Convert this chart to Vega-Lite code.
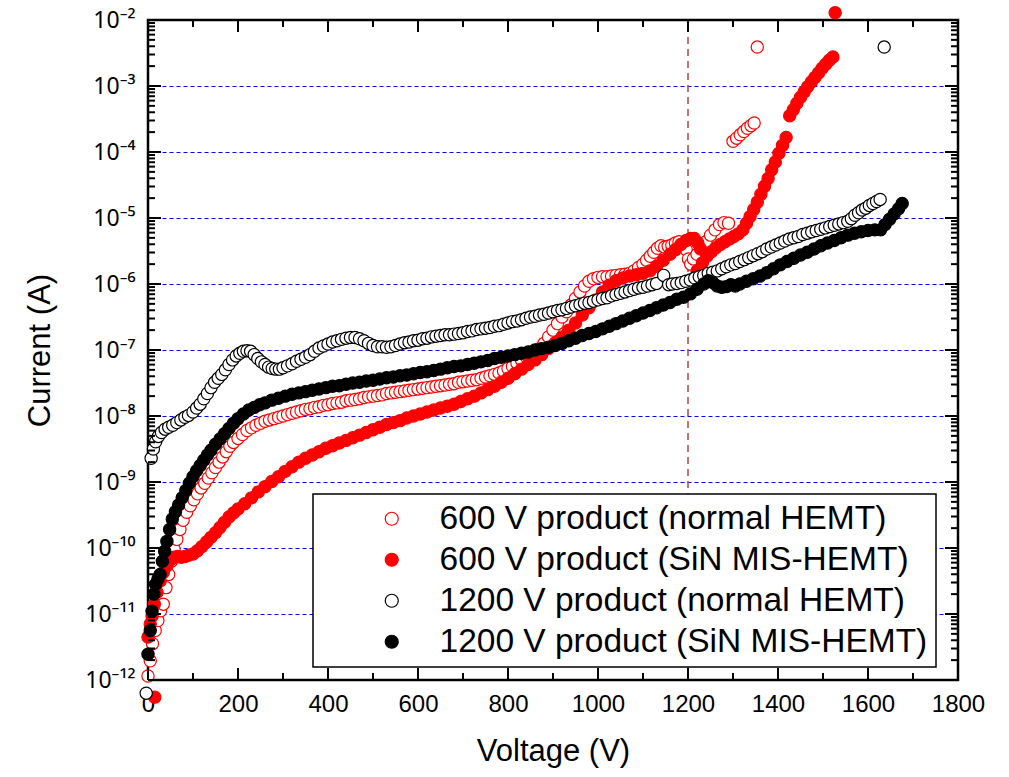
{
"$schema":"https://vega.github.io/schema/vega-lite/v6.json",
"width":810,"height":660,
"autosize":{"type":"none"},
"padding":{"left":148,"top":20,"right":51,"bottom":97},
"background":"white",
"config":{
 "view":{"stroke":"black","strokeWidth":2.5},
 "font":"Liberation Sans",
 "axis":{"labelFont":"Liberation Sans","titleFont":"Liberation Sans","labelColor":"black","titleColor":"black","domain":false,"titleFontWeight":"normal","labelFontSize":24,"titleFontSize":31,"labelOverlap":false,"labelFlush":false,"labelBound":false,"grid":false},
 "legend":{"orient":"none","legendX":165,"legendY":474,"padding":8,"rowPadding":6,"strokeColor":"black","strokeWidth":1.5,"fillColor":"white","labelFont":"Liberation Sans","labelFontSize":33.5,"labelColor":"black","labelLimit":1000,"symbolSize":170,"symbolStrokeWidth":1.2,"symbolType":"circle","symbolOffset":54,"labelOffset":31,"cornerRadius":0}
},
"datasets":{
 "xMajor":[{"V":0},{"V":200},{"V":400},{"V":600},{"V":800},{"V":1000},{"V":1200},{"V":1400},{"V":1600},{"V":1800}],
 "xMinor":[{"V":100},{"V":300},{"V":500},{"V":700},{"V":900},{"V":1100},{"V":1300},{"V":1500},{"V":1700}],
 "yMajor":[{"I":1e-12},{"I":1e-11},{"I":1e-10},{"I":1e-9},{"I":1e-8},{"I":1e-7},{"I":1e-6},{"I":1e-5},{"I":1e-4},{"I":1e-3},{"I":1e-2}],
 "yMinor":[{"I":2e-12},{"I":3e-12},{"I":4e-12},{"I":5e-12},{"I":6e-12},{"I":7e-12},{"I":8e-12},{"I":9e-12},{"I":2e-11},{"I":3e-11},{"I":4e-11},{"I":5e-11},{"I":6e-11},{"I":7e-11},{"I":8e-11},{"I":9e-11},{"I":2e-10},{"I":3e-10},{"I":4e-10},{"I":5e-10},{"I":6e-10},{"I":7e-10},{"I":8e-10},{"I":9e-10},{"I":2e-9},{"I":3e-9},{"I":4e-9},{"I":5e-9},{"I":6e-9},{"I":7e-9},{"I":8e-9},{"I":9e-9},{"I":2e-8},{"I":3e-8},{"I":4e-8},{"I":5e-8},{"I":6e-8},{"I":7e-8},{"I":8e-8},{"I":9e-8},{"I":2e-7},{"I":3e-7},{"I":4e-7},{"I":5e-7},{"I":6e-7},{"I":7e-7},{"I":8e-7},{"I":9e-7},{"I":2e-6},{"I":3e-6},{"I":4e-6},{"I":5e-6},{"I":6e-6},{"I":7e-6},{"I":8e-6},{"I":9e-6},{"I":2e-5},{"I":3e-5},{"I":4e-5},{"I":5e-5},{"I":6e-5},{"I":7e-5},{"I":8e-5},{"I":9e-5},{"I":2e-4},{"I":3e-4},{"I":4e-4},{"I":5e-4},{"I":6e-4},{"I":7e-4},{"I":8e-4},{"I":9e-4},{"I":2e-3},{"I":3e-3},{"I":4e-3},{"I":5e-3},{"I":6e-3},{"I":7e-3},{"I":8e-3},{"I":9e-3}]
},
"layer":[
 {
  "data":{"values":[{"v":1200}]},
  "mark":{"type":"rule","color":"#b5534f","strokeWidth":1.6,"strokeDash":[7,5]},
  "encoding":{
   "x":{"field":"v","type":"quantitative","scale":{"domain":[0,1800],"nice":false,"zero":false},
    "axis":{"orient":"bottom","values":[0,200,400,600,800,1000,1200,1400,1600,1800],"format":"d","ticks":false,"labelPadding":12,"title":"Voltage (V)","titleX":405,"titleY":71,"titleBaseline":"middle","titleAlign":"center"}},
   "y":{"datum":1e-12,"type":"quantitative","scale":{"type":"log","domain":[1e-12,1e-2],"nice":false},
    "axis":{"orient":"left","values":[1e-12,1e-11,1e-10,1e-9,1e-8,1e-7,1e-6,1e-5,1e-4,1e-3,1e-2],
     "labelExpr":"'10⁻' + ['⁰','¹','²','³','⁴','⁵','⁶','⁷','⁸','⁹','¹⁰','¹¹','¹²'][-round(log(datum.value)/LN10)]",
     "labelFont":"Noto Sans","labelFontSize":23,
     "ticks":false,"labelPadding":13,
     "grid":true,"gridColor":"#0000ff","gridDash":[4,3],"gridWidth":1,
     "gridOpacity":{"condition":{"test":"datum.value > 2e-12 && datum.value < 5e-3","value":1},"value":0},
     "title":"Current (A)","titleX":-108,"titleY":330,"titleAngle":-90,"titleBaseline":"middle","titleAlign":"center"}},
   "y2":{"datum":1e-2}
  }
 },
 {
  "data":{"values":[
{"s":"a","V":0,"I":1.15e-12},{"s":"a","V":5,"I":1.95e-12},{"s":"a","V":10,"I":3.55e-12},{"s":"a","V":16,"I":5.62e-12},{"s":"a","V":22,"I":7.94e-12},{"s":"a","V":28,"I":1.12e-11},{"s":"a","V":34,"I":1.41e-11},{"s":"a","V":40,"I":2.51e-11},{"s":"a","V":46,"I":3.98e-11},{"s":"a","V":52,"I":6.31e-11},{"s":"a","V":58,"I":9.55e-11},{"s":"a","V":64,"I":1.35e-10},{"s":"a","V":71,"I":1.91e-10},{"s":"a","V":78,"I":2.63e-10},{"s":"a","V":86,"I":3.47e-10},{"s":"a","V":94,"I":4.37e-10},{"s":"a","V":102,"I":5.37e-10},{"s":"a","V":110,"I":6.61e-10},{"s":"a","V":118,"I":8.13e-10},{"s":"a","V":126,"I":9.55e-10},{"s":"a","V":134,"I":1.15e-9},{"s":"a","V":142,"I":1.38e-9},{"s":"a","V":150,"I":1.66e-9},{"s":"a","V":158,"I":2.0e-9},{"s":"a","V":166,"I":2.4e-9},{"s":"a","V":174,"I":2.88e-9},{"s":"a","V":182,"I":3.47e-9},{"s":"a","V":190,"I":3.98e-9},{"s":"a","V":200,"I":4.57e-9},{"s":"a","V":210,"I":5.25e-9},{"s":"a","V":220,"I":6.03e-9},{"s":"a","V":230,"I":6.61e-9},{"s":"a","V":240,"I":7.24e-9},{"s":"a","V":250,"I":7.76e-9},{"s":"a","V":260,"I":8.32e-9},{"s":"a","V":270,"I":8.71e-9},{"s":"a","V":280,"I":9.12e-9},{"s":"a","V":290,"I":9.55e-9},{"s":"a","V":300,"I":1.0e-8},{"s":"a","V":310,"I":1.05e-8},{"s":"a","V":320,"I":1.1e-8},{"s":"a","V":330,"I":1.15e-8},{"s":"a","V":340,"I":1.2e-8},{"s":"a","V":350,"I":1.26e-8},{"s":"a","V":360,"I":1.29e-8},{"s":"a","V":370,"I":1.35e-8},{"s":"a","V":380,"I":1.38e-8},{"s":"a","V":390,"I":1.45e-8},{"s":"a","V":400,"I":1.48e-8},{"s":"a","V":410,"I":1.55e-8},{"s":"a","V":420,"I":1.58e-8},{"s":"a","V":430,"I":1.62e-8},{"s":"a","V":440,"I":1.7e-8},{"s":"a","V":450,"I":1.74e-8},{"s":"a","V":460,"I":1.78e-8},{"s":"a","V":470,"I":1.82e-8},{"s":"a","V":480,"I":1.91e-8},{"s":"a","V":490,"I":1.95e-8},{"s":"a","V":500,"I":2.0e-8},{"s":"a","V":510,"I":2.04e-8},{"s":"a","V":520,"I":2.09e-8},{"s":"a","V":530,"I":2.19e-8},{"s":"a","V":540,"I":2.24e-8},{"s":"a","V":550,"I":2.29e-8},{"s":"a","V":560,"I":2.34e-8},{"s":"a","V":570,"I":2.4e-8},{"s":"a","V":580,"I":2.45e-8},{"s":"a","V":590,"I":2.51e-8},{"s":"a","V":600,"I":2.57e-8},{"s":"a","V":610,"I":2.63e-8},{"s":"a","V":620,"I":2.69e-8},{"s":"a","V":630,"I":2.75e-8},{"s":"a","V":640,"I":2.82e-8},{"s":"a","V":650,"I":2.88e-8},{"s":"a","V":660,"I":2.95e-8},{"s":"a","V":670,"I":3.02e-8},{"s":"a","V":680,"I":3.09e-8},{"s":"a","V":690,"I":3.24e-8},{"s":"a","V":700,"I":3.31e-8},{"s":"a","V":710,"I":3.39e-8},{"s":"a","V":720,"I":3.47e-8},{"s":"a","V":730,"I":3.55e-8},{"s":"a","V":740,"I":3.72e-8},{"s":"a","V":750,"I":3.89e-8},{"s":"a","V":760,"I":4.07e-8},{"s":"a","V":770,"I":4.27e-8},{"s":"a","V":780,"I":4.47e-8},{"s":"a","V":790,"I":4.79e-8},{"s":"a","V":800,"I":5.25e-8},{"s":"a","V":810,"I":5.62e-8},{"s":"a","V":820,"I":6.31e-8},{"s":"a","V":830,"I":7.08e-8},{"s":"a","V":840,"I":7.94e-8},{"s":"a","V":850,"I":8.71e-8},{"s":"a","V":860,"I":9.55e-8},{"s":"a","V":870,"I":1.05e-7},{"s":"a","V":880,"I":1.26e-7},{"s":"a","V":890,"I":1.58e-7},{"s":"a","V":900,"I":2.0e-7},{"s":"a","V":910,"I":2.51e-7},{"s":"a","V":920,"I":3.16e-7},{"s":"a","V":930,"I":3.8e-7},{"s":"a","V":940,"I":4.79e-7},{"s":"a","V":950,"I":6.03e-7},{"s":"a","V":960,"I":7.59e-7},{"s":"a","V":970,"I":9.33e-7},{"s":"a","V":980,"I":1.1e-6},{"s":"a","V":990,"I":1.2e-6},{"s":"a","V":1000,"I":1.26e-6},{"s":"a","V":1010,"I":1.29e-6},{"s":"a","V":1020,"I":1.29e-6},{"s":"a","V":1030,"I":1.32e-6},{"s":"a","V":1040,"I":1.35e-6},{"s":"a","V":1050,"I":1.38e-6},{"s":"a","V":1060,"I":1.41e-6},{"s":"a","V":1070,"I":1.45e-6},{"s":"a","V":1080,"I":1.58e-6},{"s":"a","V":1090,"I":1.78e-6},{"s":"a","V":1100,"I":2.0e-6},{"s":"a","V":1108,"I":2.29e-6},{"s":"a","V":1116,"I":2.63e-6},{"s":"a","V":1124,"I":3.02e-6},{"s":"a","V":1132,"I":3.47e-6},{"s":"a","V":1140,"I":3.8e-6},{"s":"a","V":1148,"I":3.63e-6},{"s":"a","V":1156,"I":3.72e-6},{"s":"a","V":1164,"I":3.89e-6},{"s":"a","V":1172,"I":4.17e-6},{"s":"a","V":1180,"I":4.37e-6},{"s":"a","V":1188,"I":3.98e-6},{"s":"a","V":1196,"I":3.31e-6},{"s":"a","V":1201,"I":2.4e-6},{"s":"a","V":1206,"I":2.0e-6},{"s":"a","V":1212,"I":2.4e-6},{"s":"a","V":1220,"I":2.82e-6},{"s":"a","V":1230,"I":3.55e-6},{"s":"a","V":1240,"I":4.37e-6},{"s":"a","V":1250,"I":5.5e-6},{"s":"a","V":1260,"I":6.61e-6},{"s":"a","V":1270,"I":7.94e-6},{"s":"a","V":1280,"I":8.51e-6},{"s":"a","V":1290,"I":8.32e-6},{"s":"a","V":1300,"I":1.45e-4},{"s":"a","V":1308,"I":1.62e-4},{"s":"a","V":1316,"I":1.82e-4},{"s":"a","V":1324,"I":2.04e-4},{"s":"a","V":1332,"I":2.29e-4},{"s":"a","V":1340,"I":2.51e-4},{"s":"a","V":1347,"I":2.75e-4},{"s":"a","V":1354,"I":3.89e-3},
{"s":"b","V":0,"I":4.47e-12},{"s":"b","V":15,"I":5.5e-13},{"s":"b","V":5,"I":7.08e-12},{"s":"b","V":9,"I":9.33e-12},{"s":"b","V":14,"I":1.41e-11},{"s":"b","V":20,"I":2.14e-11},{"s":"b","V":27,"I":3.16e-11},{"s":"b","V":34,"I":4.27e-11},{"s":"b","V":42,"I":5.37e-11},{"s":"b","V":50,"I":6.61e-11},{"s":"b","V":58,"I":7.24e-11},{"s":"b","V":66,"I":7.41e-11},{"s":"b","V":74,"I":7.24e-11},{"s":"b","V":82,"I":7.41e-11},{"s":"b","V":90,"I":7.76e-11},{"s":"b","V":100,"I":8.13e-11},{"s":"b","V":110,"I":9.12e-11},{"s":"b","V":120,"I":1.05e-10},{"s":"b","V":130,"I":1.23e-10},{"s":"b","V":140,"I":1.45e-10},{"s":"b","V":150,"I":1.7e-10},{"s":"b","V":160,"I":2.04e-10},{"s":"b","V":170,"I":2.45e-10},{"s":"b","V":180,"I":2.95e-10},{"s":"b","V":190,"I":3.39e-10},{"s":"b","V":200,"I":3.89e-10},{"s":"b","V":215,"I":4.68e-10},{"s":"b","V":230,"I":5.75e-10},{"s":"b","V":245,"I":7.08e-10},{"s":"b","V":260,"I":8.51e-10},{"s":"b","V":275,"I":1.02e-9},{"s":"b","V":290,"I":1.2e-9},{"s":"b","V":305,"I":1.45e-9},{"s":"b","V":320,"I":1.7e-9},{"s":"b","V":335,"I":2.0e-9},{"s":"b","V":350,"I":2.29e-9},{"s":"b","V":365,"I":2.57e-9},{"s":"b","V":380,"I":2.88e-9},{"s":"b","V":395,"I":3.24e-9},{"s":"b","V":410,"I":3.55e-9},{"s":"b","V":425,"I":3.89e-9},{"s":"b","V":440,"I":4.27e-9},{"s":"b","V":455,"I":4.68e-9},{"s":"b","V":470,"I":5.13e-9},{"s":"b","V":485,"I":5.62e-9},{"s":"b","V":500,"I":6.17e-9},{"s":"b","V":515,"I":6.76e-9},{"s":"b","V":530,"I":7.41e-9},{"s":"b","V":545,"I":7.94e-9},{"s":"b","V":560,"I":8.51e-9},{"s":"b","V":575,"I":9.33e-9},{"s":"b","V":590,"I":1.0e-8},{"s":"b","V":605,"I":1.07e-8},{"s":"b","V":620,"I":1.15e-8},{"s":"b","V":635,"I":1.23e-8},{"s":"b","V":650,"I":1.32e-8},{"s":"b","V":665,"I":1.41e-8},{"s":"b","V":680,"I":1.51e-8},{"s":"b","V":695,"I":1.66e-8},{"s":"b","V":710,"I":1.82e-8},{"s":"b","V":725,"I":2.0e-8},{"s":"b","V":740,"I":2.24e-8},{"s":"b","V":755,"I":2.51e-8},{"s":"b","V":770,"I":2.82e-8},{"s":"b","V":785,"I":3.24e-8},{"s":"b","V":800,"I":3.72e-8},{"s":"b","V":815,"I":4.37e-8},{"s":"b","V":830,"I":5.13e-8},{"s":"b","V":845,"I":6.03e-8},{"s":"b","V":860,"I":7.08e-8},{"s":"b","V":875,"I":8.51e-8},{"s":"b","V":890,"I":1.05e-7},{"s":"b","V":905,"I":1.29e-7},{"s":"b","V":920,"I":1.58e-7},{"s":"b","V":935,"I":2.0e-7},{"s":"b","V":950,"I":2.57e-7},{"s":"b","V":965,"I":3.39e-7},{"s":"b","V":980,"I":4.37e-7},{"s":"b","V":995,"I":5.75e-7},{"s":"b","V":1010,"I":7.59e-7},{"s":"b","V":1025,"I":9.55e-7},{"s":"b","V":1040,"I":1.12e-6},{"s":"b","V":1055,"I":1.23e-6},{"s":"b","V":1070,"I":1.32e-6},{"s":"b","V":1085,"I":1.38e-6},{"s":"b","V":1100,"I":1.45e-6},{"s":"b","V":1115,"I":1.58e-6},{"s":"b","V":1130,"I":1.86e-6},{"s":"b","V":1145,"I":2.29e-6},{"s":"b","V":1160,"I":2.82e-6},{"s":"b","V":1172,"I":3.31e-6},{"s":"b","V":1184,"I":3.98e-6},{"s":"b","V":1196,"I":4.57e-6},{"s":"b","V":1206,"I":4.9e-6},{"s":"b","V":1214,"I":4.9e-6},{"s":"b","V":1222,"I":4.17e-6},{"s":"b","V":1228,"I":3.39e-6},{"s":"b","V":1220,"I":1.58e-6},{"s":"b","V":1232,"I":2.09e-6},{"s":"b","V":1242,"I":2.63e-6},{"s":"b","V":1252,"I":3.09e-6},{"s":"b","V":1262,"I":3.55e-6},{"s":"b","V":1272,"I":3.98e-6},{"s":"b","V":1282,"I":4.37e-6},{"s":"b","V":1292,"I":4.79e-6},{"s":"b","V":1302,"I":5.25e-6},{"s":"b","V":1312,"I":5.75e-6},{"s":"b","V":1322,"I":6.61e-6},{"s":"b","V":1330,"I":8.32e-6},{"s":"b","V":1338,"I":1.05e-5},{"s":"b","V":1346,"I":1.35e-5},{"s":"b","V":1354,"I":1.74e-5},{"s":"b","V":1362,"I":2.29e-5},{"s":"b","V":1370,"I":3.02e-5},{"s":"b","V":1378,"I":3.98e-5},{"s":"b","V":1386,"I":5.37e-5},{"s":"b","V":1394,"I":7.08e-5},{"s":"b","V":1402,"I":9.55e-5},{"s":"b","V":1410,"I":1.26e-4},{"s":"b","V":1418,"I":1.66e-4},{"s":"b","V":1426,"I":3.55e-4},{"s":"b","V":1434,"I":4.37e-4},{"s":"b","V":1442,"I":5.5e-4},{"s":"b","V":1450,"I":6.76e-4},{"s":"b","V":1458,"I":8.13e-4},{"s":"b","V":1466,"I":9.77e-4},{"s":"b","V":1474,"I":1.15e-3},{"s":"b","V":1482,"I":1.35e-3},{"s":"b","V":1490,"I":1.58e-3},{"s":"b","V":1498,"I":1.86e-3},{"s":"b","V":1506,"I":2.14e-3},{"s":"b","V":1514,"I":2.45e-3},{"s":"b","V":1522,"I":2.75e-3},{"s":"b","V":1527,"I":1.29e-2},
{"s":"c","V":-4,"I":6.31e-13},{"s":"c","V":7,"I":2.29e-9},{"s":"c","V":12,"I":3.16e-9},{"s":"c","V":17,"I":4.07e-9},{"s":"c","V":23,"I":4.9e-9},{"s":"c","V":30,"I":5.62e-9},{"s":"c","V":38,"I":6.31e-9},{"s":"c","V":46,"I":6.76e-9},{"s":"c","V":55,"I":7.24e-9},{"s":"c","V":64,"I":7.94e-9},{"s":"c","V":73,"I":8.71e-9},{"s":"c","V":82,"I":9.55e-9},{"s":"c","V":90,"I":1.02e-8},{"s":"c","V":100,"I":1.15e-8},{"s":"c","V":108,"I":1.32e-8},{"s":"c","V":116,"I":1.51e-8},{"s":"c","V":124,"I":1.82e-8},{"s":"c","V":132,"I":2.19e-8},{"s":"c","V":140,"I":2.69e-8},{"s":"c","V":148,"I":3.24e-8},{"s":"c","V":156,"I":3.72e-8},{"s":"c","V":164,"I":4.27e-8},{"s":"c","V":172,"I":5.01e-8},{"s":"c","V":180,"I":6.03e-8},{"s":"c","V":188,"I":7.08e-8},{"s":"c","V":196,"I":8.13e-8},{"s":"c","V":204,"I":8.91e-8},{"s":"c","V":212,"I":9.55e-8},{"s":"c","V":220,"I":9.77e-8},{"s":"c","V":228,"I":9.55e-8},{"s":"c","V":236,"I":8.51e-8},{"s":"c","V":244,"I":7.41e-8},{"s":"c","V":252,"I":6.61e-8},{"s":"c","V":260,"I":6.03e-8},{"s":"c","V":268,"I":5.5e-8},{"s":"c","V":276,"I":5.25e-8},{"s":"c","V":284,"I":5.13e-8},{"s":"c","V":292,"I":5.13e-8},{"s":"c","V":300,"I":5.37e-8},{"s":"c","V":310,"I":5.75e-8},{"s":"c","V":320,"I":6.17e-8},{"s":"c","V":330,"I":6.76e-8},{"s":"c","V":340,"I":7.24e-8},{"s":"c","V":350,"I":7.76e-8},{"s":"c","V":360,"I":8.51e-8},{"s":"c","V":370,"I":9.55e-8},{"s":"c","V":380,"I":1.07e-7},{"s":"c","V":390,"I":1.15e-7},{"s":"c","V":400,"I":1.23e-7},{"s":"c","V":410,"I":1.32e-7},{"s":"c","V":420,"I":1.38e-7},{"s":"c","V":430,"I":1.45e-7},{"s":"c","V":440,"I":1.51e-7},{"s":"c","V":450,"I":1.55e-7},{"s":"c","V":460,"I":1.55e-7},{"s":"c","V":470,"I":1.48e-7},{"s":"c","V":480,"I":1.38e-7},{"s":"c","V":490,"I":1.26e-7},{"s":"c","V":500,"I":1.17e-7},{"s":"c","V":510,"I":1.12e-7},{"s":"c","V":520,"I":1.12e-7},{"s":"c","V":530,"I":1.1e-7},{"s":"c","V":540,"I":1.12e-7},{"s":"c","V":550,"I":1.17e-7},{"s":"c","V":560,"I":1.23e-7},{"s":"c","V":570,"I":1.29e-7},{"s":"c","V":580,"I":1.32e-7},{"s":"c","V":590,"I":1.38e-7},{"s":"c","V":600,"I":1.41e-7},{"s":"c","V":610,"I":1.48e-7},{"s":"c","V":620,"I":1.51e-7},{"s":"c","V":630,"I":1.58e-7},{"s":"c","V":640,"I":1.62e-7},{"s":"c","V":650,"I":1.66e-7},{"s":"c","V":660,"I":1.7e-7},{"s":"c","V":670,"I":1.7e-7},{"s":"c","V":680,"I":1.74e-7},{"s":"c","V":690,"I":1.78e-7},{"s":"c","V":700,"I":1.82e-7},{"s":"c","V":710,"I":1.91e-7},{"s":"c","V":720,"I":1.95e-7},{"s":"c","V":730,"I":2.04e-7},{"s":"c","V":740,"I":2.09e-7},{"s":"c","V":750,"I":2.14e-7},{"s":"c","V":760,"I":2.19e-7},{"s":"c","V":770,"I":2.29e-7},{"s":"c","V":780,"I":2.34e-7},{"s":"c","V":790,"I":2.45e-7},{"s":"c","V":800,"I":2.57e-7},{"s":"c","V":810,"I":2.69e-7},{"s":"c","V":820,"I":2.75e-7},{"s":"c","V":830,"I":2.88e-7},{"s":"c","V":840,"I":3.02e-7},{"s":"c","V":850,"I":3.16e-7},{"s":"c","V":860,"I":3.24e-7},{"s":"c","V":870,"I":3.39e-7},{"s":"c","V":880,"I":3.47e-7},{"s":"c","V":890,"I":3.63e-7},{"s":"c","V":900,"I":3.8e-7},{"s":"c","V":910,"I":3.98e-7},{"s":"c","V":920,"I":4.07e-7},{"s":"c","V":930,"I":4.27e-7},{"s":"c","V":940,"I":4.47e-7},{"s":"c","V":950,"I":4.68e-7},{"s":"c","V":960,"I":4.9e-7},{"s":"c","V":970,"I":5.13e-7},{"s":"c","V":980,"I":5.25e-7},{"s":"c","V":990,"I":5.5e-7},{"s":"c","V":1000,"I":5.75e-7},{"s":"c","V":1010,"I":6.03e-7},{"s":"c","V":1020,"I":6.17e-7},{"s":"c","V":1030,"I":6.61e-7},{"s":"c","V":1040,"I":6.92e-7},{"s":"c","V":1050,"I":7.24e-7},{"s":"c","V":1060,"I":7.59e-7},{"s":"c","V":1070,"I":7.94e-7},{"s":"c","V":1080,"I":8.32e-7},{"s":"c","V":1090,"I":8.71e-7},{"s":"c","V":1100,"I":8.91e-7},{"s":"c","V":1110,"I":9.33e-7},{"s":"c","V":1120,"I":9.77e-7},{"s":"c","V":1130,"I":1.02e-6},{"s":"c","V":1146,"I":1.35e-6},{"s":"c","V":1157,"I":9.77e-7},{"s":"c","V":1165,"I":1.0e-6},{"s":"c","V":1175,"I":1.02e-6},{"s":"c","V":1185,"I":1.05e-6},{"s":"c","V":1195,"I":1.1e-6},{"s":"c","V":1205,"I":1.15e-6},{"s":"c","V":1215,"I":1.23e-6},{"s":"c","V":1225,"I":1.29e-6},{"s":"c","V":1235,"I":1.35e-6},{"s":"c","V":1245,"I":1.45e-6},{"s":"c","V":1255,"I":1.51e-6},{"s":"c","V":1265,"I":1.58e-6},{"s":"c","V":1275,"I":1.7e-6},{"s":"c","V":1285,"I":1.82e-6},{"s":"c","V":1295,"I":1.95e-6},{"s":"c","V":1305,"I":2.04e-6},{"s":"c","V":1315,"I":2.19e-6},{"s":"c","V":1325,"I":2.34e-6},{"s":"c","V":1335,"I":2.51e-6},{"s":"c","V":1345,"I":2.69e-6},{"s":"c","V":1355,"I":2.88e-6},{"s":"c","V":1365,"I":3.09e-6},{"s":"c","V":1375,"I":3.39e-6},{"s":"c","V":1385,"I":3.63e-6},{"s":"c","V":1395,"I":3.89e-6},{"s":"c","V":1405,"I":4.17e-6},{"s":"c","V":1415,"I":4.47e-6},{"s":"c","V":1425,"I":4.79e-6},{"s":"c","V":1435,"I":5.01e-6},{"s":"c","V":1445,"I":5.25e-6},{"s":"c","V":1455,"I":5.62e-6},{"s":"c","V":1465,"I":5.89e-6},{"s":"c","V":1475,"I":6.17e-6},{"s":"c","V":1485,"I":6.46e-6},{"s":"c","V":1495,"I":6.76e-6},{"s":"c","V":1505,"I":7.08e-6},{"s":"c","V":1515,"I":7.41e-6},{"s":"c","V":1525,"I":7.76e-6},{"s":"c","V":1535,"I":8.13e-6},{"s":"c","V":1545,"I":8.51e-6},{"s":"c","V":1555,"I":8.91e-6},{"s":"c","V":1563,"I":9.77e-6},{"s":"c","V":1571,"I":1.1e-5},{"s":"c","V":1579,"I":1.2e-5},{"s":"c","V":1587,"I":1.32e-5},{"s":"c","V":1595,"I":1.41e-5},{"s":"c","V":1603,"I":1.55e-5},{"s":"c","V":1611,"I":1.66e-5},{"s":"c","V":1619,"I":1.78e-5},{"s":"c","V":1627,"I":1.91e-5},{"s":"c","V":1636,"I":3.89e-3},
{"s":"d","V":0,"I":2.45e-12},{"s":"d","V":5,"I":5.62e-12},{"s":"d","V":9,"I":1.1e-11},{"s":"d","V":13,"I":2.0e-11},{"s":"d","V":17,"I":2.82e-11},{"s":"d","V":22,"I":3.39e-11},{"s":"d","V":27,"I":3.98e-11},{"s":"d","V":32,"I":6.31e-11},{"s":"d","V":37,"I":8.91e-11},{"s":"d","V":42,"I":1.26e-10},{"s":"d","V":48,"I":1.91e-10},{"s":"d","V":54,"I":2.75e-10},{"s":"d","V":61,"I":3.55e-10},{"s":"d","V":68,"I":4.47e-10},{"s":"d","V":76,"I":5.75e-10},{"s":"d","V":84,"I":7.41e-10},{"s":"d","V":92,"I":9.55e-10},{"s":"d","V":100,"I":1.2e-9},{"s":"d","V":108,"I":1.48e-9},{"s":"d","V":116,"I":1.78e-9},{"s":"d","V":124,"I":2.14e-9},{"s":"d","V":132,"I":2.57e-9},{"s":"d","V":140,"I":3.02e-9},{"s":"d","V":150,"I":3.72e-9},{"s":"d","V":160,"I":4.47e-9},{"s":"d","V":170,"I":5.37e-9},{"s":"d","V":180,"I":6.46e-9},{"s":"d","V":190,"I":7.76e-9},{"s":"d","V":200,"I":9.12e-9},{"s":"d","V":212,"I":1.07e-8},{"s":"d","V":224,"I":1.23e-8},{"s":"d","V":236,"I":1.35e-8},{"s":"d","V":248,"I":1.48e-8},{"s":"d","V":260,"I":1.58e-8},{"s":"d","V":275,"I":1.74e-8},{"s":"d","V":290,"I":1.86e-8},{"s":"d","V":305,"I":2.0e-8},{"s":"d","V":320,"I":2.14e-8},{"s":"d","V":335,"I":2.24e-8},{"s":"d","V":350,"I":2.34e-8},{"s":"d","V":365,"I":2.45e-8},{"s":"d","V":380,"I":2.57e-8},{"s":"d","V":395,"I":2.69e-8},{"s":"d","V":410,"I":2.82e-8},{"s":"d","V":425,"I":2.88e-8},{"s":"d","V":440,"I":3.02e-8},{"s":"d","V":455,"I":3.16e-8},{"s":"d","V":470,"I":3.24e-8},{"s":"d","V":485,"I":3.39e-8},{"s":"d","V":500,"I":3.47e-8},{"s":"d","V":515,"I":3.63e-8},{"s":"d","V":530,"I":3.8e-8},{"s":"d","V":545,"I":3.89e-8},{"s":"d","V":560,"I":4.07e-8},{"s":"d","V":575,"I":4.17e-8},{"s":"d","V":590,"I":4.37e-8},{"s":"d","V":605,"I":4.57e-8},{"s":"d","V":620,"I":4.68e-8},{"s":"d","V":635,"I":4.9e-8},{"s":"d","V":650,"I":5.13e-8},{"s":"d","V":665,"I":5.37e-8},{"s":"d","V":680,"I":5.62e-8},{"s":"d","V":695,"I":5.75e-8},{"s":"d","V":710,"I":6.03e-8},{"s":"d","V":725,"I":6.31e-8},{"s":"d","V":740,"I":6.61e-8},{"s":"d","V":755,"I":6.92e-8},{"s":"d","V":770,"I":7.41e-8},{"s":"d","V":785,"I":7.76e-8},{"s":"d","V":800,"I":8.13e-8},{"s":"d","V":815,"I":8.51e-8},{"s":"d","V":830,"I":8.91e-8},{"s":"d","V":845,"I":9.33e-8},{"s":"d","V":860,"I":1.0e-7},{"s":"d","V":875,"I":1.05e-7},{"s":"d","V":890,"I":1.1e-7},{"s":"d","V":905,"I":1.17e-7},{"s":"d","V":920,"I":1.26e-7},{"s":"d","V":935,"I":1.38e-7},{"s":"d","V":950,"I":1.51e-7},{"s":"d","V":965,"I":1.66e-7},{"s":"d","V":980,"I":1.78e-7},{"s":"d","V":995,"I":1.91e-7},{"s":"d","V":1010,"I":2.09e-7},{"s":"d","V":1025,"I":2.29e-7},{"s":"d","V":1040,"I":2.51e-7},{"s":"d","V":1055,"I":2.75e-7},{"s":"d","V":1070,"I":3.02e-7},{"s":"d","V":1085,"I":3.31e-7},{"s":"d","V":1100,"I":3.63e-7},{"s":"d","V":1115,"I":3.98e-7},{"s":"d","V":1130,"I":4.37e-7},{"s":"d","V":1145,"I":4.79e-7},{"s":"d","V":1160,"I":5.25e-7},{"s":"d","V":1175,"I":5.89e-7},{"s":"d","V":1190,"I":6.31e-7},{"s":"d","V":1205,"I":7.08e-7},{"s":"d","V":1220,"I":8.32e-7},{"s":"d","V":1235,"I":1.0e-6},{"s":"d","V":1245,"I":1.12e-6},{"s":"d","V":1255,"I":1.05e-6},{"s":"d","V":1265,"I":9.33e-7},{"s":"d","V":1275,"I":8.91e-7},{"s":"d","V":1285,"I":9.12e-7},{"s":"d","V":1295,"I":9.77e-7},{"s":"d","V":1305,"I":9.33e-7},{"s":"d","V":1315,"I":1.0e-6},{"s":"d","V":1330,"I":1.1e-6},{"s":"d","V":1345,"I":1.2e-6},{"s":"d","V":1360,"I":1.32e-6},{"s":"d","V":1375,"I":1.48e-6},{"s":"d","V":1390,"I":1.7e-6},{"s":"d","V":1405,"I":1.95e-6},{"s":"d","V":1420,"I":2.19e-6},{"s":"d","V":1435,"I":2.45e-6},{"s":"d","V":1450,"I":2.75e-6},{"s":"d","V":1465,"I":3.02e-6},{"s":"d","V":1480,"I":3.39e-6},{"s":"d","V":1495,"I":3.8e-6},{"s":"d","V":1510,"I":4.17e-6},{"s":"d","V":1525,"I":4.57e-6},{"s":"d","V":1540,"I":5.01e-6},{"s":"d","V":1555,"I":5.5e-6},{"s":"d","V":1570,"I":5.89e-6},{"s":"d","V":1585,"I":6.17e-6},{"s":"d","V":1600,"I":6.46e-6},{"s":"d","V":1615,"I":6.61e-6},{"s":"d","V":1628,"I":6.61e-6},{"s":"d","V":1638,"I":7.94e-6},{"s":"d","V":1648,"I":9.55e-6},{"s":"d","V":1658,"I":1.15e-5},{"s":"d","V":1668,"I":1.38e-5},{"s":"d","V":1676,"I":1.66e-5}
  ]},
  "mark":{"type":"point","shape":"circle","filled":true,"size":150,"strokeWidth":1.2,"opacity":1},
  "encoding":{
   "x":{"field":"V","type":"quantitative","scale":{"domain":[0,1800],"nice":false,"zero":false},"axis":null},
   "y":{"field":"I","type":"quantitative","scale":{"type":"log","domain":[1e-12,1e-2],"nice":false},"axis":null},
   "fill":{"field":"s","type":"nominal","scale":{"domain":["a","b","c","d"],"range":["white","red","white","black"]},
    "legend":{"title":null,"labelExpr":"datum.value == 'a' ? '600 V product (normal HEMT)' : datum.value == 'b' ? '600 V product (SiN MIS-HEMT)' : datum.value == 'c' ? '1200 V product (normal HEMT)' : '1200 V product (SiN MIS-HEMT)'"}},
   "stroke":{"field":"s","type":"nominal","scale":{"domain":["a","b","c","d"],"range":["red","red","black","black"]},
    "legend":{"title":null,"labelExpr":"datum.value == 'a' ? '600 V product (normal HEMT)' : datum.value == 'b' ? '600 V product (SiN MIS-HEMT)' : datum.value == 'c' ? '1200 V product (normal HEMT)' : '1200 V product (SiN MIS-HEMT)'"}}
  }
 },
 {
  "data":{"name":"xMajor"},
  "mark":{"type":"tick","orient":"vertical","size":12,"thickness":2,"color":"black","opacity":1,"yOffset":-6},
  "encoding":{"x":{"field":"V","type":"quantitative","axis":null},"y":{"datum":1e-12,"type":"quantitative","axis":null}}
 },
 {
  "data":{"name":"xMajor"},
  "mark":{"type":"tick","orient":"vertical","size":12,"thickness":2,"color":"black","opacity":1,"yOffset":6},
  "encoding":{"x":{"field":"V","type":"quantitative","axis":null},"y":{"datum":1e-2,"type":"quantitative","axis":null}}
 },
 {
  "data":{"name":"xMinor"},
  "mark":{"type":"tick","orient":"vertical","size":7,"thickness":2,"color":"black","opacity":1,"yOffset":-3.5},
  "encoding":{"x":{"field":"V","type":"quantitative","axis":null},"y":{"datum":1e-12,"type":"quantitative","axis":null}}
 },
 {
  "data":{"name":"xMinor"},
  "mark":{"type":"tick","orient":"vertical","size":7,"thickness":2,"color":"black","opacity":1,"yOffset":3.5},
  "encoding":{"x":{"field":"V","type":"quantitative","axis":null},"y":{"datum":1e-2,"type":"quantitative","axis":null}}
 },
 {
  "data":{"name":"yMajor"},
  "mark":{"type":"tick","orient":"horizontal","size":13,"thickness":2,"color":"black","opacity":1,"xOffset":6.5},
  "encoding":{"y":{"field":"I","type":"quantitative","axis":null},"x":{"datum":0,"type":"quantitative","axis":null}}
 },
 {
  "data":{"name":"yMajor"},
  "mark":{"type":"tick","orient":"horizontal","size":13,"thickness":2,"color":"black","opacity":1,"xOffset":-6.5},
  "encoding":{"y":{"field":"I","type":"quantitative","axis":null},"x":{"datum":1800,"type":"quantitative","axis":null}}
 },
 {
  "data":{"name":"yMinor"},
  "mark":{"type":"tick","orient":"horizontal","size":7,"thickness":2,"color":"black","opacity":1,"xOffset":3.5},
  "encoding":{"y":{"field":"I","type":"quantitative","axis":null},"x":{"datum":0,"type":"quantitative","axis":null}}
 },
 {
  "data":{"name":"yMinor"},
  "mark":{"type":"tick","orient":"horizontal","size":7,"thickness":2,"color":"black","opacity":1,"xOffset":-3.5},
  "encoding":{"y":{"field":"I","type":"quantitative","axis":null},"x":{"datum":1800,"type":"quantitative","axis":null}}
 }
],
"resolve":{"axis":{"x":"independent","y":"independent"}}
}
